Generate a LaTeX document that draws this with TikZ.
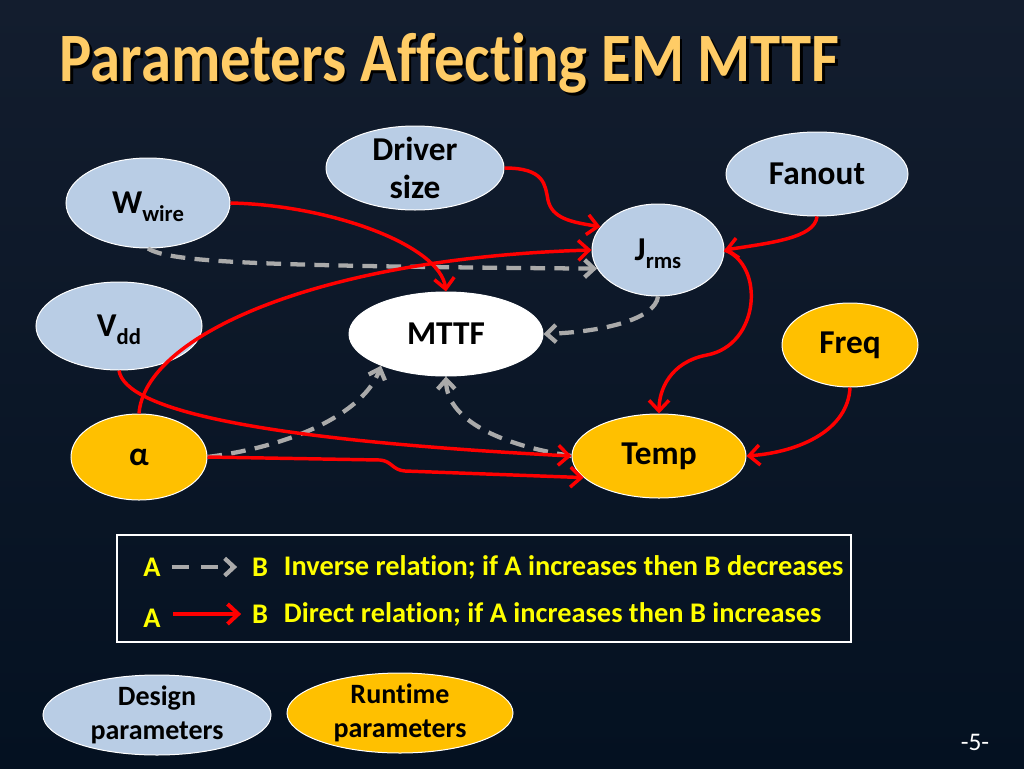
\documentclass[tikz,border=0pt]{standalone}
\usepackage{fontspec}
\setmainfont{Carlito}[Ligatures=NoCommon]
\usetikzlibrary{shapes.geometric,arrows.meta}

\definecolor{bgtop}{RGB}{19,29,46}
\definecolor{bgmid}{RGB}{26,54,92}
\definecolor{bgbot}{RGB}{4,17,33}
\definecolor{dsgblue}{RGB}{185,205,229}
\definecolor{rtorange}{RGB}{255,192,0}
\definecolor{relred}{RGB}{255,0,0}
\definecolor{invgrey}{RGB}{170,170,170}
\definecolor{legyellow}{RGB}{255,255,0}
\definecolor{titlegold}{RGB}{255,204,102}

\newcommand{\lowsub}[1]{\raisebox{-6pt}[0pt][0pt]{\fontsize{17}{17}\selectfont #1}}
\newcommand{\shadowtext}[1]{\makebox[0pt][l]{\hspace{2.25pt}\raisebox{-2.25pt}{\color{black}#1}}\color{titlegold}#1}

\tikzset{
  param/.style={ellipse, draw=white, line width=0.75pt, inner sep=-6pt,
    align=center, text=black, font=\bfseries\fontsize{25}{28}\selectfont},
  design/.style={param, fill=dsgblue},
  runtime/.style={param, fill=rtorange},
  oval/.style 2 args={minimum width=#1*0.75pt, minimum height=#2*0.75pt},
  direct/.style={draw=relred, line width=2.6pt,
    -{Straight Barb[length=8pt,width=15pt]}},
  inverse/.style={draw=invgrey, line width=3.2pt, dash pattern=on 11pt off 7pt,
    -{Straight Barb[length=7pt,width=13pt]}},
  legend/.style={text=legyellow, font=\bfseries\fontsize{21.3}{24}\selectfont, inner sep=2pt},
}

\begin{document}
\begin{tikzpicture}[x=0.75pt, y=-0.75pt]
  \useasboundingbox (0,0) rectangle (1024,768);
  \shade[top color=bgtop, middle color=bgmid, bottom color=bgbot] (0,0) rectangle (1024,768);

  % title
  \node[anchor=west, font=\bfseries\fontsize{52}{56}\selectfont] (title)
    at (55,65) {\scalebox{0.876}[1]{\shadowtext{Parameters Affecting EM MTTF}}};

  % parameters
  \node[design, oval={164}{90}] (wire) at (148,203) {W\lowsub{wire}};
  \node[design, oval={178}{84}] (drv) at (415,168) {Driver\\size};
  \node[design, oval={166}{88}] (vdd) at (119,326) {V\lowsub{dd}};
  \node[param, fill=white, oval={194}{84}] (mttf) at (446,334) {MTTF};
  \node[runtime, oval={136}{86}] (alpha) at (139,457) {α};
  \node[design, oval={182}{84}] (fan) at (817,174) {Fanout};
  \node[design, oval={132}{92}] (jrms) at (658,250) {J\lowsub{rms}};
  \node[runtime, oval={136}{84}] (freq) at (850,345) {Freq};
  \node[runtime, oval={174}{84}] (temp) at (659,456) {Temp};

  % inverse relations
  \begin{scope}
    \draw[inverse] (wire.south) .. controls (170,262) and (250,266) .. (jrms.197);
    \draw[inverse] (jrms.south) .. controls (655,320) and (600,332) .. (mttf.east);
    \draw[inverse] (alpha.east) .. controls (300,445) and (365,410) .. (mttf.206);
    \draw[inverse] (temp.west) .. controls (500,445) and (447,420) .. (mttf.south);
  \end{scope}

  % direct relations
  \begin{scope}
    \draw[direct] (wire.east) .. controls (330,205) and (440,245) .. (mttf.north);
    \draw[direct] (drv.east) .. controls (545,168) and (545,185) .. (548,200)
      .. controls (552,218) and (570,222) .. (jrms.158);
    \draw[direct] (alpha.north) .. controls (145,335) and (320,258) .. (jrms.west);
    \draw[direct] (fan.south) .. controls (815,238) and (770,243) .. (jrms.east);
    \draw[direct] (jrms.east) .. controls (765,265) and (760,345) .. (707,355)
      .. controls (670,362) and (659,390) .. (temp.north);
    \draw[direct] (freq.south) .. controls (848,430) and (800,452) .. (temp.east);
    \draw[direct] (vdd.south) .. controls (125,410) and (260,440) .. (temp.west);
    \draw[direct] (alpha.east) -- (380,460) .. controls (392,461) and (392,470) .. (405,471)
      -- (temp.196);
  \end{scope}

  % legend
  \draw[white, line width=1.6pt] (117,535) rectangle (851,642);
  \node[legend] (legA1) at (152,567) {A};
  \node[legend] (legB1) at (260,567) {B};
  \node[legend, anchor=west] (legT1) at (281,567) {Inverse relation; if A increases then B decreases};
  \node[legend] (legA2) at (152,618) {A};
  \node[legend] (legB2) at (260,614) {B};
  \node[legend, anchor=west] (legT2) at (281,614) {Direct relation; if A increases then B increases};
  \draw[inverse, dash pattern=on 13pt off 9pt, shorten <=6pt, shorten >=9pt] (legA1) -- (legB1);
  \draw[direct, line width=3pt, shorten <=7pt, shorten >=6pt] (legA2.east |- legB2) -- (legB2);

  % key
  \node[design, oval={228}{80}, font=\bfseries\fontsize{21}{25}\selectfont] (dkey) at (157,715) {Design\\parameters};
  \node[runtime, oval={226}{80}, font=\bfseries\fontsize{21}{25}\selectfont] (rkey) at (400,713) {Runtime\\parameters};

  \node[text=white, font=\fontsize{19}{20}\selectfont] (page) at (975,742) {-5-};
\end{tikzpicture}
\end{document}
